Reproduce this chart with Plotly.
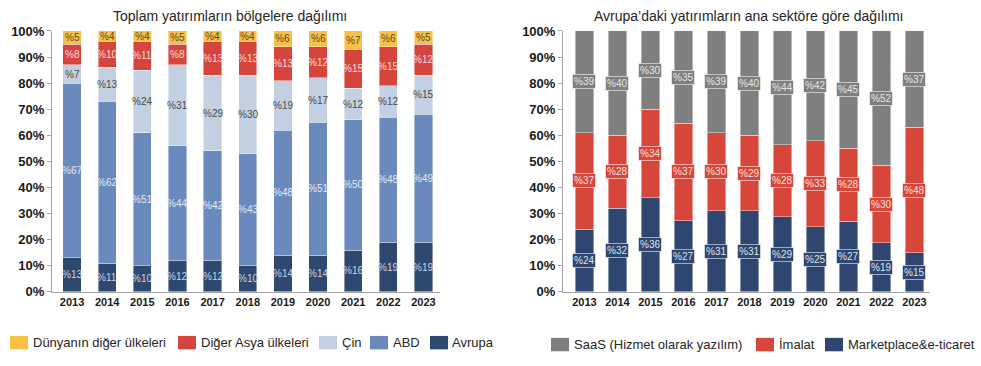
import plotly.graph_objects as go

# ---- data -------------------------------------------------------------
years = ["2013", "2014", "2015", "2016", "2017", "2018",
         "2019", "2020", "2021", "2022", "2023"]

# Toplam yatırımların bölgelere dağılımı (%), stacked bottom -> top
avrupa = [13, 11, 10, 12, 12, 10, 14, 14, 16, 19, 19]
abd = [67, 62, 51, 44, 42, 43, 48, 51, 50, 48, 49]
cin = [7, 13, 24, 31, 29, 30, 19, 17, 12, 12, 15]
diger_asya = [8, 10, 11, 8, 13, 13, 13, 12, 15, 15, 12]
dunya_diger = [5, 4, 4, 5, 4, 4, 6, 6, 7, 6, 5]

# Avrupa'daki yatırımların ana sektöre göre dağılımı (%), bottom -> top
marketplace = [24, 32, 36, 27, 31, 31, 29, 25, 27, 19, 15]
imalat = [37, 28, 34, 37, 30, 29, 28, 33, 28, 30, 48]
saas = [39, 40, 30, 35, 39, 40, 44, 42, 45, 52, 37]

y_ticks = [0, 10, 20, 30, 40, 50, 60, 70, 80, 90, 100]
y_tick_text = [f"{v}%" for v in y_ticks]

left_series = [
    ("Avrupa", avrupa, "#2F4870", "#C9D2E2"),
    ("ABD", abd, "#6A89BD", "#E4EAF3"),
    ("Çin", cin, "#C3D0E1", "#4A4A4A"),
    ("Diğer Asya ülkeleri", diger_asya, "#D6453D", "#F6DCDA"),
    ("Dünyanın diğer ülkeleri", dunya_diger, "#F8C045", "#5A4A2A"),
]
right_series = [
    ("Marketplace&e-ticaret", marketplace, "#2E4670", "#DDE3EE"),
    ("İmalat", imalat, "#D7463B", "#F8E0DD"),
    ("SaaS (Hizmet olarak yazılım)", saas, "#7F7F7F", "#E6E6E6"),
]

FONT = "Liberation Sans, Arial, sans-serif"
W, H = 981, 366

fig = go.Figure()
annotations = []


def add_stack(series, xaxis, yaxis, width, boxed):
    # each column is shown as shares of its own total (barnorm="percent")
    totals = [sum(s[1][i] for s in series) for i in range(len(years))]
    base = [0] * len(years)
    for name, vals, color, txtcolor in series:
        fig.add_trace(go.Bar(
            x=years, y=vals, name=name, xaxis=xaxis, yaxis=yaxis,
            marker=dict(color=color, line=dict(color="rgba(255,255,255,0.7)", width=0.6)),
            width=width, showlegend=False, hoverinfo="x+y+name",
        ))
        for i, v in enumerate(vals):
            mid = (base[i] + v / 2) / totals[i] * 100
            ann = dict(
                x=i, y=mid, xref=xaxis, yref=yaxis, text=f"%{v}",
                showarrow=False, font=dict(family=FONT, size=10, color=txtcolor),
            )
            if boxed:
                ann.update(bgcolor=color, bordercolor="rgba(255,255,255,0.55)",
                           borderwidth=1, borderpad=1)
            annotations.append(ann)
            base[i] += v


add_stack(left_series, "x", "y", 0.52, False)
add_stack(right_series, "x2", "y2", 0.55, True)

# ---- axes ------------------------------------------------------------
y_dom = [69 / H, 341 / H]
axis_common = dict(showline=True, linecolor="#A6A6A6", linewidth=1,
                   showgrid=False, zeroline=False)
yaxis_common = dict(
    axis_common, range=[0, 100], tickvals=y_ticks, ticktext=y_tick_text,
    ticks="outside", ticklen=4, tickcolor="#A6A6A6",
    tickfont=dict(family=FONT, size=13, color="#1A1A1A", weight="bold"),
    domain=y_dom,
)
xaxis_common = dict(
    axis_common, type="category", ticks="",
    tickfont=dict(family=FONT, size=11, color="#1A1A1A", weight="bold"),
)

fig.update_layout(
    xaxis=dict(xaxis_common, domain=[52 / W, 440 / W], range=[-0.57, 10.47]),
    yaxis=dict(yaxis_common, anchor="x"),
    xaxis2=dict(xaxis_common, domain=[563 / W, 930 / W], range=[-0.65, 10.47]),
    yaxis2=dict(yaxis_common, anchor="x2"),
)

# ---- titles ----------------------------------------------------------
for text, cx in [("Toplam yatırımların bölgelere dağılımı", 230),
                 ("Avrupa’daki yatırımların ana sektöre göre dağılımı", 748)]:
    annotations.append(dict(
        x=cx / W, y=1 - 9 / H, xref="paper", yref="paper", text=text,
        showarrow=False, xanchor="center", yanchor="middle",
        font=dict(family=FONT, size=14, color="#262626"),
    ))

# ---- legends (swatch + label) ---------------------------------------
shapes = []


def add_legend(items, y_px):
    for name, color, sx, tx in items:
        shapes.append(dict(
            type="rect", xref="paper", yref="paper",
            x0=sx / W, x1=(sx + 18) / W,
            y0=1 - (y_px + 7) / H, y1=1 - (y_px - 7) / H,
            fillcolor=color, line=dict(width=0),
        ))
        annotations.append(dict(
            x=tx / W, y=1 - y_px / H, xref="paper", yref="paper", text=name,
            showarrow=False, xanchor="left", yanchor="middle",
            font=dict(family=FONT, size=13, color="#262626"),
        ))


left_colors = {n: c for n, _, c, _ in left_series}
right_colors = {n: c for n, _, c, _ in right_series}
add_legend([
    ("Dünyanın diğer ülkeleri", left_colors["Dünyanın diğer ülkeleri"], 10, 31),
    ("Diğer Asya ülkeleri", left_colors["Diğer Asya ülkeleri"], 178, 199),
    ("Çin", left_colors["Çin"], 319, 340),
    ("ABD", left_colors["ABD"], 370, 391),
    ("Avrupa", left_colors["Avrupa"], 430, 450),
], 350)
add_legend([
    ("SaaS (Hizmet olarak yazılım)", right_colors["SaaS (Hizmet olarak yazılım)"], 551, 572),
    ("İmalat", right_colors["İmalat"], 756, 777),
    ("Marketplace&e-ticaret", right_colors["Marketplace&e-ticaret"], 825, 846),
], 352)

fig.update_layout(
    barmode="stack", barnorm="percent", width=W, height=H,
    margin=dict(l=0, r=0, t=0, b=0),
    paper_bgcolor="white", plot_bgcolor="white",
    font=dict(family=FONT),
    annotations=annotations, shapes=shapes,
)

fig.write_html("out.html")
